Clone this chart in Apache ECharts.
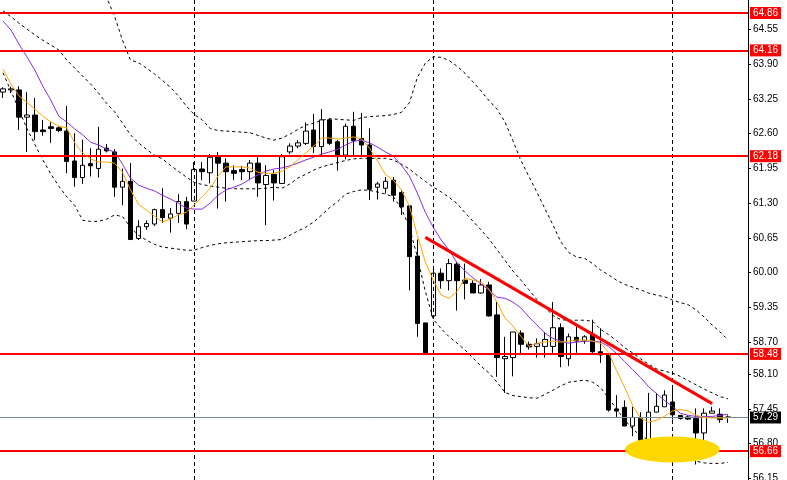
<!DOCTYPE html>
<html>
<head>
<meta charset="utf-8">
<script src="https://cdn.jsdelivr.net/npm/echarts@6/dist/echarts.min.js"></script>
<style>
  html, body { margin: 0; padding: 0; background: #fff; }
  #chart { width: 787px; height: 480px; }
</style>
</head>
<body>
<div id="chart"></div>
<script>
// candles: open / close / low / high
var opens = [63.38,63.42,63.42,62.91,62.95,62.67,62.73,62.71,62.65,62.09,
  61.78,62.04,61.95,62.33,62.26,61.60,61.71,60.64,60.86,60.91,
  61.18,61.02,61.11,61.33,61.34,61.94,61.87,62.16,62.05,61.91,
  61.93,61.89,62.05,61.65,61.84,61.67,62.26,62.37,62.42,62.67,
  62.36,62.86,62.45,62.20,62.74,62.51,62.39,61.60,61.58,61.73,
  61.50,61.25,60.31,59.06,59.19,59.99,59.85,60.16,59.86,59.80,
  59.62,59.77,59.21,58.39,58.41,58.87,58.66,58.62,58.62,58.62,
  58.97,58.39,58.79,58.72,58.85,58.52,58.46,57.45,57.48,57.13,
  57.27,56.86,57.39,57.49,57.58,57.33,57.30,57.27,57.00,57.37,
  57.35,57.30];
var closes = [63.44,63.44,62.91,62.95,62.64,62.64,62.70,62.66,62.08,61.78,
  62.01,62.00,62.31,62.28,61.60,61.71,60.62,60.86,60.92,61.18,
  61.03,61.10,61.33,60.91,61.93,61.89,62.16,62.05,61.89,61.86,
  61.89,62.05,61.68,61.82,61.68,62.17,62.37,62.43,62.65,62.36,
  62.86,62.42,62.20,62.74,62.47,62.39,61.56,61.66,61.71,61.45,
  61.23,60.30,59.05,58.50,59.99,59.85,60.17,59.85,59.80,59.62,
  59.77,59.19,58.41,58.43,58.89,58.66,58.61,58.67,58.75,58.97,
  58.43,58.80,58.72,58.80,58.52,58.46,57.43,57.41,57.13,57.29,
  56.86,57.39,57.50,57.71,57.34,57.27,57.26,57.00,57.37,57.41,
  57.25,57.29];
var lows = [63.27,63.36,62.67,62.26,62.48,62.56,62.43,62.63,61.86,61.61,
  61.66,61.80,61.78,62.25,61.42,61.26,60.62,60.61,60.80,60.87,
  60.93,60.75,60.93,60.81,61.34,61.73,61.67,61.20,61.33,61.73,
  61.73,61.73,61.42,60.89,61.35,61.67,62.22,62.33,62.39,62.24,
  62.20,62.39,61.91,62.12,62.17,62.20,61.36,61.37,61.48,61.33,
  61.08,59.67,58.80,58.49,59.19,59.70,59.67,59.29,59.50,59.62,
  59.61,59.18,58.05,57.75,58.06,58.46,58.56,58.41,58.41,58.50,
  58.23,58.25,58.50,58.67,58.50,58.31,57.40,57.30,57.13,56.94,
  56.68,56.74,57.39,57.49,57.25,57.25,57.24,56.41,56.79,57.37,
  57.19,57.19];
var highs = [63.47,63.48,63.49,63.38,63.27,62.86,62.82,62.74,63.12,62.61,
  62.49,62.33,62.73,62.41,62.31,61.95,62.05,60.98,60.98,61.20,
  61.58,61.21,61.47,61.42,62.07,62.07,62.22,62.26,62.14,62.01,
  62.00,62.11,62.17,62.01,61.92,62.22,62.42,62.48,62.81,62.97,
  63.06,62.89,62.48,62.79,63.01,62.99,62.70,61.70,61.79,61.79,
  61.55,61.26,60.62,59.06,60.09,60.08,60.26,60.20,60.17,59.86,
  59.88,59.83,59.45,58.80,58.89,58.92,58.71,58.77,58.89,59.45,
  59.05,58.86,58.99,58.83,59.12,58.96,58.46,57.71,57.61,57.49,
  57.39,57.75,57.75,57.80,57.88,57.33,57.33,57.46,57.46,57.49,
  57.46,57.33];

// indicator lines
var maFast = [63.81,63.53,63.31,63.19,63.06,62.93,62.82,62.74,62.71,62.43,
  62.24,62.13,62.07,62.07,62.05,61.88,61.55,61.28,61.17,61.06,
  60.95,61.00,61.08,61.13,61.27,61.42,61.58,61.81,61.98,61.98,
  61.98,61.96,61.88,61.86,61.86,61.90,61.98,62.11,62.24,62.37,
  62.52,62.52,62.50,62.52,62.54,62.50,62.33,62.09,61.84,61.73,
  61.55,61.25,60.70,60.20,59.86,59.58,59.52,59.65,59.90,59.86,
  59.82,59.69,59.45,59.15,59.00,58.81,58.62,58.68,58.70,58.72,
  58.70,58.72,58.74,58.74,58.72,58.68,58.51,58.17,57.86,57.52,
  57.28,57.20,57.24,57.31,57.41,57.44,57.41,57.33,57.29,57.28,
  57.28,57.28];
var maSlow = [64.71,64.54,64.28,64.04,63.79,63.49,63.23,62.93,62.82,62.69,
  62.58,62.44,62.39,62.31,62.26,62.03,61.77,61.64,61.58,61.53,
  61.45,61.38,61.30,61.21,61.19,61.19,61.30,61.45,61.55,61.60,
  61.66,61.75,61.83,61.90,61.94,61.96,62.00,62.05,62.11,62.16,
  62.22,62.26,62.31,62.39,62.46,62.48,62.43,62.35,62.26,62.18,
  62.01,61.81,61.49,61.13,60.85,60.61,60.42,60.18,60.03,59.90,
  59.79,59.67,59.54,59.52,59.45,59.34,59.17,59.02,58.87,58.77,
  58.72,58.68,58.70,58.72,58.72,58.70,58.62,58.49,58.34,58.19,
  58.04,57.87,57.74,57.61,57.50,57.37,57.33,57.31,57.31,57.31,
  57.33,57.35];
var bandUpper = [null,null,null,null,null,null,null,null,null,null,
  null,null,65.50,65.15,64.80,64.35,63.98,63.93,63.83,63.72,
  63.60,63.47,63.31,63.12,62.96,62.86,62.70,62.66,62.65,62.64,
  62.63,62.62,62.57,62.52,62.48,62.52,62.59,62.68,62.76,62.80,
  62.85,62.88,62.87,62.86,62.85,62.90,62.92,62.93,62.94,62.96,
  63.00,63.18,63.65,63.92,64.04,64.03,63.97,63.86,63.73,63.57,
  63.40,63.22,63.06,62.82,62.47,62.10,61.80,61.51,61.20,60.90,
  60.58,60.38,60.29,60.27,60.17,60.05,59.96,59.86,59.78,59.73,
  59.68,59.62,59.58,59.55,59.49,59.44,59.40,59.30,59.17,59.02,
  58.89,58.74];
var bandMiddle = [64.90,64.79,64.67,64.56,64.45,64.35,64.26,64.17,63.98,63.83,
  63.68,63.53,63.36,63.17,63.01,62.80,62.58,62.43,62.31,62.20,
  62.13,62.01,61.90,61.79,61.69,61.65,61.62,61.60,61.58,61.57,
  61.57,61.57,61.57,61.58,61.60,61.58,61.66,61.77,61.84,61.92,
  61.98,62.02,62.06,62.10,62.13,62.14,62.14,62.14,62.14,62.11,
  62.03,61.94,61.82,61.71,61.60,61.51,61.41,61.29,61.12,60.96,
  60.80,60.63,60.43,60.23,60.03,59.86,59.68,59.50,59.35,59.20,
  59.12,59.11,59.11,59.11,59.09,58.94,58.84,58.73,58.60,58.50,
  58.39,58.29,58.20,58.16,58.12,58.06,57.98,57.90,57.82,57.75,
  57.68,57.64];
var bandLower = [63.74,63.40,63.05,62.70,62.40,62.11,61.85,61.62,61.42,61.26,
  60.98,60.96,60.96,61.00,61.08,61.05,60.85,60.70,60.61,60.53,
  60.48,60.46,60.44,60.42,60.42,60.47,60.51,60.54,60.56,60.57,
  60.58,60.59,60.60,60.60,60.61,60.62,60.70,60.78,60.85,60.95,
  61.08,61.22,61.33,61.47,61.52,61.55,61.54,61.51,61.47,61.42,
  61.20,60.85,60.30,59.65,59.13,58.95,58.80,58.68,58.55,58.40,
  58.25,58.12,57.95,57.76,57.70,57.68,57.66,57.65,57.72,57.80,
  57.88,57.95,57.97,57.99,57.95,57.85,57.65,57.45,57.25,57.08,
  56.95,56.87,56.85,56.84,56.81,56.70,56.57,56.47,56.44,56.43,
  56.43,56.45];

var tickValues = [64.55,63.90,63.25,62.60,61.95,61.30,60.65,60.00,59.35,58.70,58.10,57.45,56.80,56.15];
var levels = [64.86, 64.16, 62.18, 58.48, 56.66];
var currentPrice = 57.29;
var separators = [24, 54, 84];
var trendFrom = [53, 60.66];
var trendTo = [89, 57.55];
var zoneCenter = [84, 56.69];

var padCount = 2; // empty space right of the last bar
var categories = [];
for (var i = 0; i < opens.length + padCount; i++) categories.push(String(i));

var candles = opens.map(function (o, i) { return [o, closes[i], lows[i], highs[i]]; });

var labelFont = { fontFamily: 'Liberation Sans', fontSize: 10 };

function priceLabel(bg) {
  return {
    show: true, position: 'end', distance: 2,
    formatter: function (p) { return p.value.toFixed(2); },
    backgroundColor: bg, color: '#fff',
    fontFamily: labelFont.fontFamily, fontSize: labelFont.fontSize,
    lineHeight: 10, padding: [1, 3, 1, 3]
  };
}

var markData = [];
separators.forEach(function (s) {
  markData.push({ xAxis: String(s), lineStyle: { color: '#000', width: 1, type: [4, 3] }, label: { show: false } });
});
markData.push({ yAxis: currentPrice, lineStyle: { color: '#778899', width: 1, type: 'solid' }, label: priceLabel('#000') });
levels.forEach(function (v) {
  markData.push({ yAxis: v, lineStyle: { color: '#ff0000', width: 2, type: 'solid' }, label: priceLabel('#ff0000') });
});
markData.push([
  { coord: [String(trendFrom[0]), trendFrom[1]], lineStyle: { color: '#ff0000', width: 3, type: 'solid' }, label: { show: false } },
  { coord: [String(trendTo[0]), trendTo[1]] }
]);

function dashed(name, data) {
  return {
    name: name, type: 'line', data: data, z: 4, symbol: 'none', silent: true,
    lineStyle: { color: '#000', width: 1, type: [3, 3] }
  };
}

var chart = echarts.init(document.getElementById('chart'));
chart.setOption({
  animation: false,
  backgroundColor: '#fff',
  grid: { left: -1, right: 39, top: 0, bottom: 0, containLabel: false, outerBoundsMode: 'none' },
  xAxis: { type: 'category', data: categories, boundaryGap: true, show: false },
  yAxis: {
    type: 'value', position: 'right', min: 56.12, max: 65.103, scale: true,
    axisLine: { show: true, lineStyle: { color: '#000', width: 1 } },
    axisTick: { show: true, length: 3, customValues: tickValues, lineStyle: { color: '#000' } },
    axisLabel: {
      customValues: tickValues, color: '#000', margin: 5,
      fontFamily: labelFont.fontFamily, fontSize: labelFont.fontSize,
      formatter: function (v) { return v.toFixed(2); }
    },
    splitLine: { show: false }
  },
  series: [
    {
      name: 'zone', type: 'line', data: [], z: 1, silent: true,
      markPoint: {
        silent: true,
        symbol: 'circle', symbolSize: [95, 26], symbolOffset: [0, 0],
        itemStyle: { color: '#ffd700' }, label: { show: false },
        data: [{ coord: [String(zoneCenter[0]), zoneCenter[1]] }]
      }
    },
    {
      name: 'price', type: 'candlestick', data: candles, z: 3, barWidth: 5, silent: true,
      itemStyle: { color: '#fff', color0: '#000', borderColor: '#000', borderColor0: '#000', borderWidth: 1 }
    },
    dashed('upper', bandUpper),
    dashed('middle', bandMiddle),
    dashed('lower', bandLower),
    {
      name: 'slow', type: 'line', data: maSlow, z: 4, symbol: 'none', silent: true,
      lineStyle: { color: '#8a2be2', width: 1 }
    },
    {
      name: 'fast', type: 'line', data: maFast, z: 5, symbol: 'none', silent: true,
      lineStyle: { color: '#ffa500', width: 1 },
      markLine: { silent: true, symbol: ['none', 'none'], animation: false, data: markData }
    }
  ]
});
</script>
</body>
</html>
